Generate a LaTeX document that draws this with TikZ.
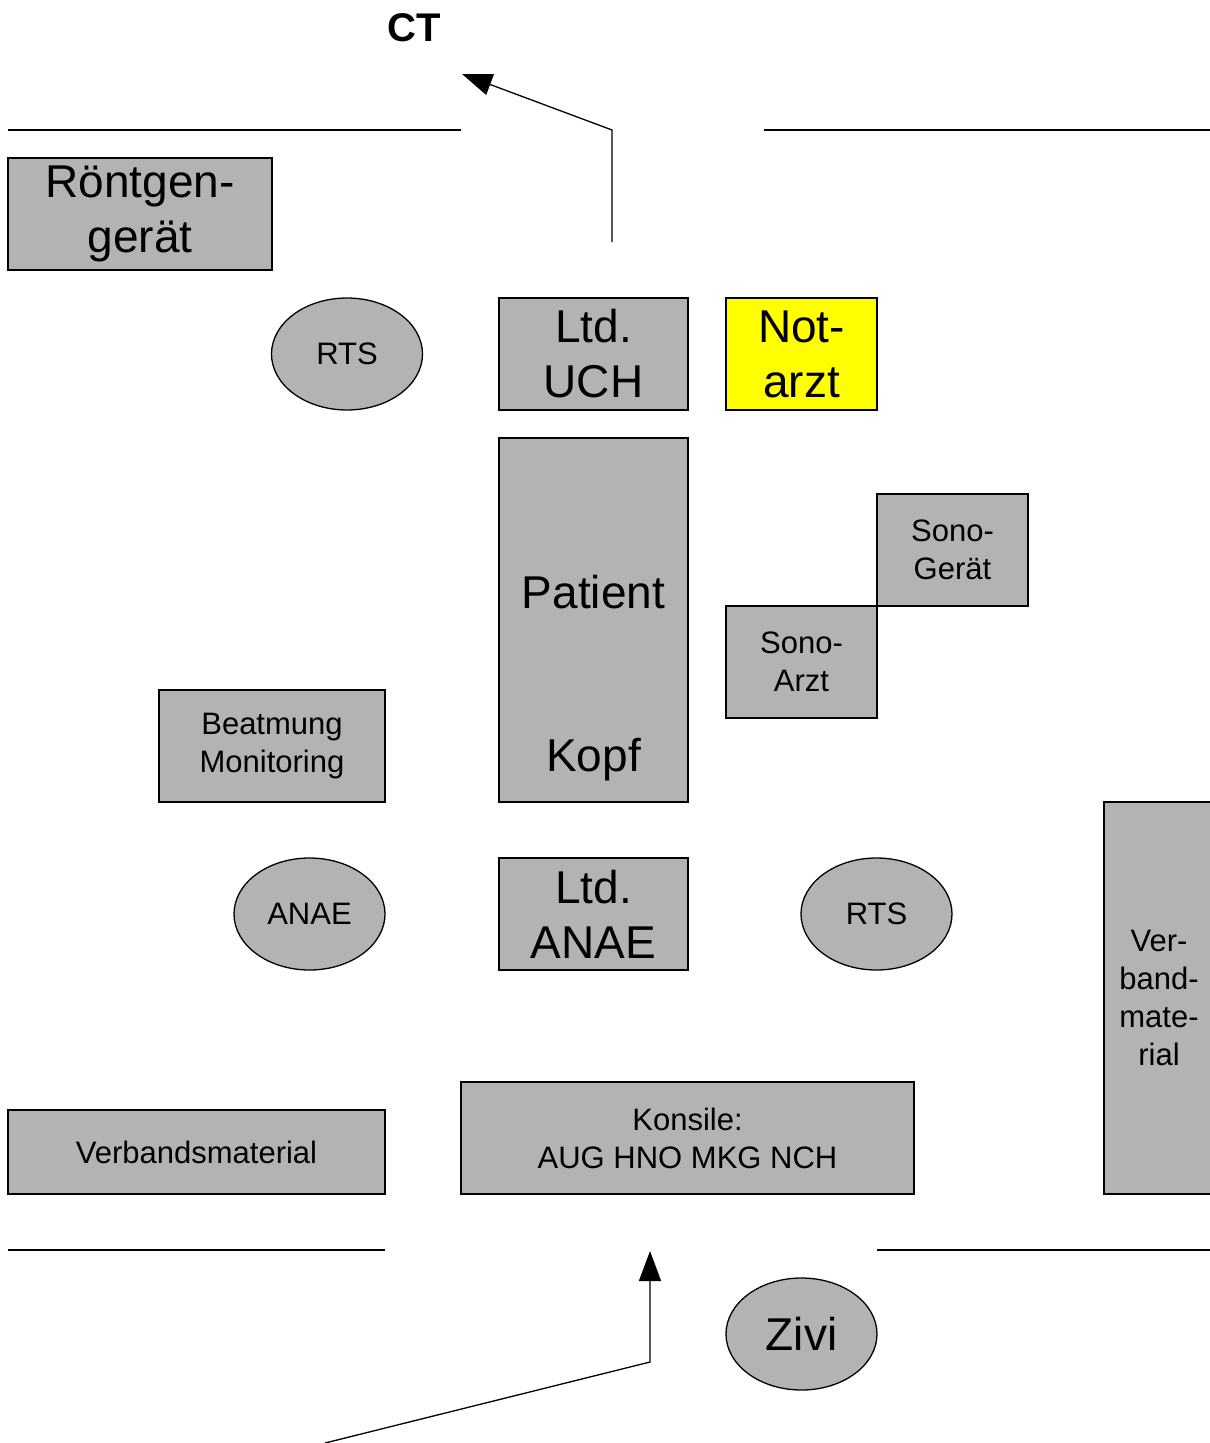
\documentclass[tikz,border=0pt]{standalone}
\usepackage{fontspec}
\setmainfont{Liberation Sans}
\usetikzlibrary{shapes.geometric,arrows.meta,positioning}
\definecolor{boxgray}{HTML}{B3B3B3}
\definecolor{notyellow}{HTML}{FFFF00}
\newcommand{\bigtxt}{\fontsize{46}{55}\selectfont}
\newcommand{\smalltxt}{\fontsize{31}{38}\selectfont}

\begin{document}
\begin{tikzpicture}[
  x=1pt, y=-1pt,
  node distance=30pt,
  room/.style={rectangle, draw=black, fill=boxgray, line width=1.3pt, inner sep=0pt, outer sep=0pt, align=center, font=\smalltxt},
  person/.style={ellipse, draw=black, fill=boxgray, line width=1.3pt, inner sep=0pt, minimum width=151pt, minimum height=112pt, font=\smalltxt},
  wall/.style={line width=1.3pt},
  arrow/.style={line width=1.3pt, -{Triangle[length=30pt,width=22pt]}}
]
\useasboundingbox (0,0) rectangle (1210,1443);

% Walls
\draw [wall] (8,130) -- (461,130);
\draw [wall] (764,130) -- (1210,130);
\draw [wall] (8,1250) -- (385,1250);
\draw [wall] (877,1250) -- (1210,1250);

% Exit
\node (ct) at (414,28) {\fontsize{40}{46}\selectfont\bfseries CT};

% Upper part
\node (roentgen) [room, anchor=north west, minimum width=264pt, minimum height=112pt, font=\bigtxt] at (8,158) {Röntgen-\\gerät};
\node (rtsleft) [person] at (347,354) {RTS};
\node (uch) [room, anchor=north west, minimum width=189pt, minimum height=112pt, font=\bigtxt] at (499,298) {Ltd.\\UCH};
\node (notarzt) [room, fill=notyellow, minimum width=151pt, minimum height=112pt, font=\bigtxt, right=38pt of uch] {Not-\\arzt};

% Patient
\node (patient) [room, minimum width=189pt, minimum height=364pt, below=28pt of uch] {};
\node (patienttxt) [font=\bigtxt] at ([yshift=-154pt]patient.north) {Patient};
\node (kopf) [font=\bigtxt] at ([yshift=42pt]patient.south) {Kopf};

% Sono
\node (sonogeraet) [room, anchor=north west, minimum width=151pt, minimum height=112pt] at (877,494) {Sono-\\Gerät};
\node (sonoarzt) [room, anchor=north east, minimum width=151pt, minimum height=112pt] at (sonogeraet.south west) {Sono-\\Arzt};

% Anaesthesia
\node (beatmung) [room, anchor=north west, minimum width=226pt, minimum height=112pt] at (159,690) {Beatmung\\Monitoring};
\node (anae) [person] at (309.5,914) {ANAE};
\node (ltdanae) [room, minimum width=189pt, minimum height=112pt, font=\bigtxt, below=56pt of patient] {Ltd.\\ANAE};
\node (rtsright) [person] at (876.5,914) {RTS};

% Material
\node (verbandright) [room, anchor=north west, minimum width=110pt, minimum height=392pt] at (1104,802) {Ver-\\band-\\mate-\\rial};
\node (verbandleft) [room, anchor=north west, minimum width=377pt, minimum height=84pt] at (8,1110) {Verbandsmaterial};
\node (konsile) [room, anchor=north west, minimum width=453pt, minimum height=112pt] at (461,1082) {Konsile:\\AUG HNO MKG NCH};

% Entry
\node (zivi) [person, font=\bigtxt] at (801.5,1334) {Zivi};

% Paths
\coordinate (ctstart) at (612,242);
\coordinate (ctbend) at (612,130);
\coordinate (cttip) at (462,74);
\draw [arrow] (ctstart) -- (ctbend) -- (cttip);

\coordinate (instart) at (325,1443);
\coordinate (inbend) at (650,1362);
\coordinate (intip) at (650,1251);
\draw [arrow] (instart) -- (inbend) -- (intip);

\end{tikzpicture}
\end{document}
